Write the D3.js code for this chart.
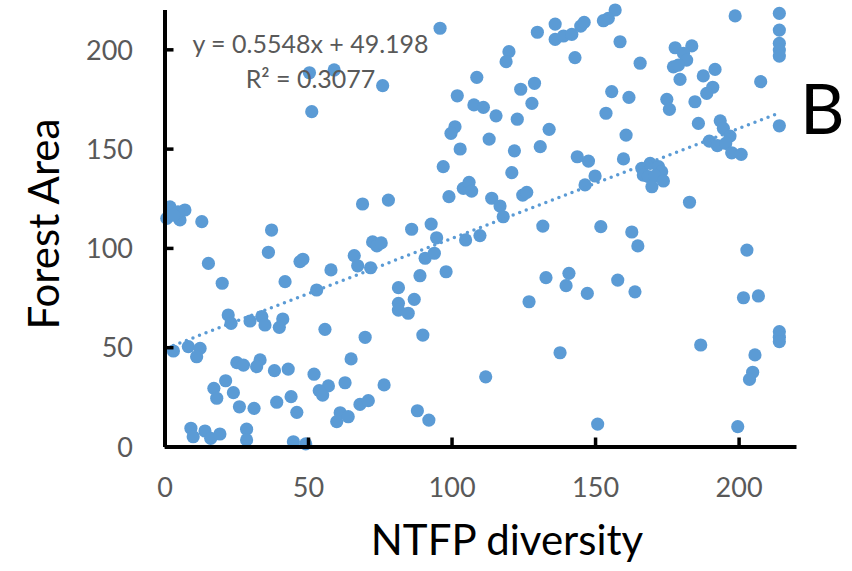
<!DOCTYPE html>
<html>
<head>
<meta charset="utf-8">
<script src="https://cdn.jsdelivr.net/npm/d3@7"></script>
<style>
  body { margin: 0; background: #fff; }
  svg { display: block; font-family: Lato, "Open Sans", sans-serif; }
</style>
</head>
<body>
<div id="chart"></div>
<script>
// NTFP diversity (x) vs Forest Area (y)
var ntfp = [
  50.5, 59.1, 51.3, 76, 1.9, 0.8, 5.4, 7.1, 4.7, 3.2, 13, 37.3, 69,
  36.2, 15.3, 20.1, 42, 47.2, 48.2, 58, 66.1, 67.3, 72.5, 74, 75.5, 71.8, 53,
  22.2, 23.2, 29.8, 33.9, 35, 41.2, 40, 55.9, 69.9, 3.1, 8.3, 12.4, 11.2,
  25.2, 27.5, 33.3, 32.1, 38.3, 43.1, 52.1, 65, 62.9, 76.5, 57.1, 53.9, 55.1,
  21.3, 17.2, 18.2, 24, 26.1, 31.2, 39.1, 44.1, 46.1, 61.2, 60, 64, 68.1, 71,
  9.2, 10, 14.1, 16.1, 19.3, 28.6, 28.6, 44.9, 49.2,
  96, 108.8, 102, 107.8, 111.1, 115.5, 101.2, 99.8, 103, 113.1, 97.1, 120, 119,
  124.1, 128.9, 128, 122.9, 134, 130.9, 121.9, 121, 104.1, 106.1, 107, 99.1,
  114, 116.9, 118, 124.8, 126.2, 78, 86.1, 92.9, 131.8, 129.9, 136.1, 136.1,
  139, 141.9, 145, 146.2, 143, 143.8, 147.7, 146.5,
  94.8, 90.8, 94, 89, 98.1, 104.9, 109.9, 81.5, 81.5, 81.5, 84.9, 87, 90,
  88.1, 92.1, 111.9, 127, 132.9, 140.9, 139.9, 147.3, 137.8,
  157, 154.6, 152.9, 158.7, 165.7, 177.9, 183.7, 180.8, 181.9, 177.3, 179, 179.6,
  187.7, 191.8, 191, 188.9, 184.8, 175, 175.9, 198.8, 214.2, 214.2, 214.2, 214.2,
  214.2, 207.7, 214.2, 155.8, 161.8, 153.8, 160.8, 186, 193.6, 194.7, 197, 189.8,
  192.6, 195.5, 197.6, 200.9, 159.9, 150, 166.3, 169.2, 172.1, 173.2, 166.8,
  168.6, 170.9, 173.8, 169.8, 182.9, 152, 162.8,
  164.9, 202.9, 157.9, 163.9, 201.7, 206.9, 214.2, 214.2, 214.2, 186.8, 205.7,
  204.9, 203.8, 150.9, 199.7
];
var forestArea = [
  188.2, 189.6, 168.6, 181.7, 120.7, 114.9, 114.1, 119.1, 118.2, 116.5, 113.2, 109, 122.1,
  97.8, 92.2, 82.2, 83, 93.1, 94.3, 88.9, 96.1, 91, 103, 101, 102.5, 90, 78.8,
  66.2, 62, 63.2, 65.4, 61.2, 64.2, 60, 59, 55, 48.1, 50.3, 49.4, 45.2,
  42.2, 41, 43.6, 40.2, 38.2, 39, 36.4, 44.1, 32.1, 31, 30.5, 28.1, 25.9,
  33.1, 29.3, 24.3, 27.1, 20, 19.2, 22.3, 25.1, 17.2, 17, 12.5, 15, 21.2, 23.1,
  9.2, 4.9, 7.8, 4.1, 6.3, 8.7, 3.3, 2.4, 1.3,
  210.6, 185.9, 176.6, 172, 170.8, 166.5, 161, 157.7, 149.8, 154.8, 140.9, 198.8, 193.8,
  179.9, 182.9, 172.8, 164.8, 159.7, 151, 148.9, 137.9, 130, 133, 128.6, 125.8,
  125, 121.1, 115.7, 126.6, 128, 124.1, 109.4, 112, 111, 208.6, 212.7, 205,
  206.7, 207.5, 211.7, 213.6, 195.8, 145.9, 143.7, 131.7,
  105.1, 94.8, 97.3, 86, 88, 104, 106.2, 80, 72.1, 68.7, 67.1, 74.1, 56.1,
  18, 13.3, 35.1, 72.9, 85, 87.2, 81, 77.1, 47.2,
  219.8, 215.6, 214.4, 203.8, 193, 200.8, 201.7, 198, 194.6, 191.2, 192, 184.9,
  186.6, 189.9, 180.9, 177.8, 173.6, 174.8, 169.8, 216.8, 218.1, 209.7, 203, 199.6,
  196.6, 183.7, 161.5, 178.7, 175.8, 167.8, 156.8, 162.7, 164, 160.2, 156.3, 153.8,
  151.5, 152.6, 147.9, 147.1, 144.8, 136.2, 140.1, 142.6, 140.9, 138.4, 136.7,
  135.9, 136.2, 133.7, 130.8, 123, 110.7, 108,
  101, 98.9, 83.8, 77.9, 74.9, 75.8, 57.8, 55, 52.8, 51.1, 46.1,
  37.4, 33.8, 11.3, 10
];
var xTicks = [0, 50, 100, 150, 200];
var yTicks = [0, 50, 100, 150, 200];
var slope = 0.5548, intercept = 49.198;
var eqLabel = "y = 0.5548x + 49.198";

var width = 852, height = 571;
var blue = "#5B9BD5", grey = "#595959";

var svg = d3.select("#chart").append("svg")
    .attr("width", width).attr("height", height);

var x = d3.scaleLinear().domain([0, 220]).range([164.5, 796]);
var y = d3.scaleLinear().domain([0, 220]).range([446.5, 9.6]);

var pts = ntfp.map(function(d, i) { return {x: d, y: forestArea[i]}; });

// points
svg.append("g").selectAll("circle").data(pts).enter().append("circle")
    .attr("cx", function(d) { return x(d.x); })
    .attr("cy", function(d) { return y(d.y); })
    .attr("r", 6.6)
    .attr("fill", blue);

// linear trendline over the data range
var xr = d3.extent(ntfp);
svg.append("line")
    .attr("x1", x(xr[0])).attr("y1", y(slope * xr[0] + intercept))
    .attr("x2", x(xr[1])).attr("y2", y(slope * xr[1] + intercept))
    .attr("stroke", blue)
    .attr("stroke-width", 3.5)
    .attr("stroke-linecap", "round")
    .attr("stroke-dasharray", "0,7");

// axes
var xAxis = svg.append("g")
    .attr("transform", "translate(0," + y(0) + ")")
    .call(d3.axisBottom(x).tickValues(xTicks).tickSizeInner(-9).tickSizeOuter(0).tickPadding(42));
var yAxis = svg.append("g")
    .attr("transform", "translate(" + x(0) + ",0)")
    .call(d3.axisLeft(y).tickValues(yTicks).tickSizeInner(-9).tickSizeOuter(0).tickPadding(40));

[xAxis, yAxis].forEach(function(a) {
    a.select(".domain").attr("stroke", "#000").attr("stroke-width", 4);
    a.selectAll(".tick line").attr("stroke", "#000").attr("stroke-width", 3.5);
    a.selectAll(".tick text")
        .attr("fill", grey)
        .style("font-size", "27px")
        .style("font-family", "Lato, sans-serif");
});
xAxis.selectAll(".tick text").attr("dy", 0).attr("y", 497 - y(0));
yAxis.selectAll(".tick text").attr("x", 133 - x(0)).attr("dy", "0.36em");

// titles
svg.append("text")
    .attr("x", 507).attr("y", 555)
    .attr("text-anchor", "middle")
    .style("font-size", "42px")
    .text("NTFP diversity");
svg.append("text")
    .attr("transform", "translate(59,224) rotate(-90)")
    .attr("text-anchor", "middle")
    .style("font-size", "42px")
    .text("Forest Area");

// trendline label
var eq = svg.append("text")
    .attr("text-anchor", "middle")
    .attr("fill", grey)
    .style("font-size", "25px");
eq.append("tspan").attr("x", 310.5).attr("y", 53.3).text(eqLabel);
eq.append("tspan").attr("x", 310.5).attr("y", 88.3).text("R² = 0.3077");

// panel letter
svg.append("text")
    .attr("x", 800).attr("y", 134)
    .style("font-size", "69px")
    .text("B");
</script>
</body>
</html>
